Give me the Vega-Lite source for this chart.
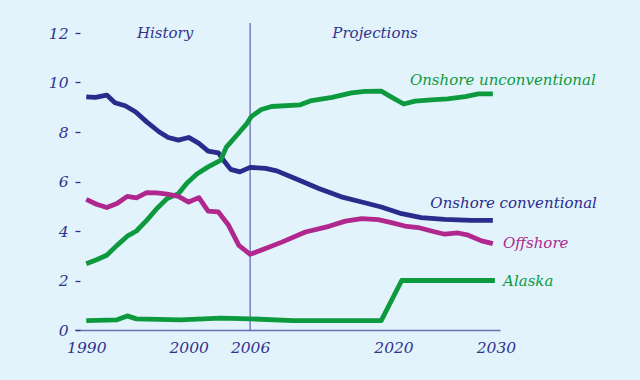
{
  "$schema": "https://vega.github.io/schema/vega-lite/v6.json",
  "width": 425,
  "height": 297,
  "autosize": {"type": "none"},
  "padding": {"left": 75, "top": 33, "right": 140, "bottom": 50},
  "background": "#e2f3fc",
  "config": {
    "view": {"stroke": null},
    "font": "DejaVu Serif"
  },
  "datasets": {
    "lines": [
      {"series": "Onshore conventional", "year": 1990.0, "value": 9.42},
      {"series": "Onshore conventional", "year": 1990.9, "value": 9.40},
      {"series": "Onshore conventional", "year": 1992.0, "value": 9.49},
      {"series": "Onshore conventional", "year": 1992.8, "value": 9.18},
      {"series": "Onshore conventional", "year": 1993.8, "value": 9.06},
      {"series": "Onshore conventional", "year": 1994.8, "value": 8.82},
      {"series": "Onshore conventional", "year": 1995.9, "value": 8.41},
      {"series": "Onshore conventional", "year": 1997.1, "value": 8.01},
      {"series": "Onshore conventional", "year": 1998.0, "value": 7.78},
      {"series": "Onshore conventional", "year": 1999.0, "value": 7.67},
      {"series": "Onshore conventional", "year": 2000.0, "value": 7.78},
      {"series": "Onshore conventional", "year": 2001.0, "value": 7.54},
      {"series": "Onshore conventional", "year": 2001.9, "value": 7.23},
      {"series": "Onshore conventional", "year": 2002.9, "value": 7.16},
      {"series": "Onshore conventional", "year": 2003.4, "value": 6.86},
      {"series": "Onshore conventional", "year": 2004.1, "value": 6.49},
      {"series": "Onshore conventional", "year": 2005.0, "value": 6.39},
      {"series": "Onshore conventional", "year": 2006.0, "value": 6.57},
      {"series": "Onshore conventional", "year": 2007.5, "value": 6.53},
      {"series": "Onshore conventional", "year": 2008.6, "value": 6.43},
      {"series": "Onshore conventional", "year": 2010.4, "value": 6.12},
      {"series": "Onshore conventional", "year": 2012.7, "value": 5.72},
      {"series": "Onshore conventional", "year": 2014.9, "value": 5.38},
      {"series": "Onshore conventional", "year": 2016.9, "value": 5.17},
      {"series": "Onshore conventional", "year": 2018.8, "value": 4.97},
      {"series": "Onshore conventional", "year": 2020.8, "value": 4.70},
      {"series": "Onshore conventional", "year": 2022.7, "value": 4.54},
      {"series": "Onshore conventional", "year": 2025.0, "value": 4.47},
      {"series": "Onshore conventional", "year": 2027.6, "value": 4.43},
      {"series": "Onshore conventional", "year": 2029.7, "value": 4.43},

      {"series": "Onshore unconventional", "year": 1990.0, "value": 2.68},
      {"series": "Onshore unconventional", "year": 1991.0, "value": 2.84},
      {"series": "Onshore unconventional", "year": 1992.0, "value": 3.02},
      {"series": "Onshore unconventional", "year": 1993.0, "value": 3.42},
      {"series": "Onshore unconventional", "year": 1994.0, "value": 3.79},
      {"series": "Onshore unconventional", "year": 1994.9, "value": 4.00},
      {"series": "Onshore unconventional", "year": 1995.9, "value": 4.43},
      {"series": "Onshore unconventional", "year": 1996.9, "value": 4.91},
      {"series": "Onshore unconventional", "year": 1997.9, "value": 5.31},
      {"series": "Onshore unconventional", "year": 1999.0, "value": 5.51},
      {"series": "Onshore unconventional", "year": 1999.8, "value": 5.92},
      {"series": "Onshore unconventional", "year": 2000.8, "value": 6.30},
      {"series": "Onshore unconventional", "year": 2001.9, "value": 6.59},
      {"series": "Onshore unconventional", "year": 2003.1, "value": 6.85},
      {"series": "Onshore unconventional", "year": 2003.7, "value": 7.40},
      {"series": "Onshore unconventional", "year": 2004.7, "value": 7.87},
      {"series": "Onshore unconventional", "year": 2005.7, "value": 8.35},
      {"series": "Onshore unconventional", "year": 2006.1, "value": 8.62},
      {"series": "Onshore unconventional", "year": 2007.1, "value": 8.91},
      {"series": "Onshore unconventional", "year": 2008.1, "value": 9.03},
      {"series": "Onshore unconventional", "year": 2010.9, "value": 9.10},
      {"series": "Onshore unconventional", "year": 2012.0, "value": 9.27},
      {"series": "Onshore unconventional", "year": 2014.0, "value": 9.40},
      {"series": "Onshore unconventional", "year": 2015.9, "value": 9.58},
      {"series": "Onshore unconventional", "year": 2017.2, "value": 9.64},
      {"series": "Onshore unconventional", "year": 2018.8, "value": 9.65},
      {"series": "Onshore unconventional", "year": 2019.8, "value": 9.41},
      {"series": "Onshore unconventional", "year": 2021.0, "value": 9.13},
      {"series": "Onshore unconventional", "year": 2022.1, "value": 9.25},
      {"series": "Onshore unconventional", "year": 2023.7, "value": 9.30},
      {"series": "Onshore unconventional", "year": 2025.3, "value": 9.34},
      {"series": "Onshore unconventional", "year": 2027.0, "value": 9.43},
      {"series": "Onshore unconventional", "year": 2028.3, "value": 9.54},
      {"series": "Onshore unconventional", "year": 2029.7, "value": 9.54},

      {"series": "Offshore", "year": 1990.0, "value": 5.28},
      {"series": "Offshore", "year": 1991.0, "value": 5.08},
      {"series": "Offshore", "year": 1992.0, "value": 4.95},
      {"series": "Offshore", "year": 1993.0, "value": 5.11},
      {"series": "Offshore", "year": 1994.0, "value": 5.40},
      {"series": "Offshore", "year": 1994.9, "value": 5.34},
      {"series": "Offshore", "year": 1995.9, "value": 5.55},
      {"series": "Offshore", "year": 1996.9, "value": 5.54},
      {"series": "Offshore", "year": 1997.9, "value": 5.49},
      {"series": "Offshore", "year": 1999.0, "value": 5.40},
      {"series": "Offshore", "year": 2000.0, "value": 5.17},
      {"series": "Offshore", "year": 2001.0, "value": 5.35},
      {"series": "Offshore", "year": 2001.9, "value": 4.80},
      {"series": "Offshore", "year": 2002.9, "value": 4.77},
      {"series": "Offshore", "year": 2003.9, "value": 4.23},
      {"series": "Offshore", "year": 2004.9, "value": 3.42},
      {"series": "Offshore", "year": 2006.0, "value": 3.06},
      {"series": "Offshore", "year": 2007.5, "value": 3.29},
      {"series": "Offshore", "year": 2009.1, "value": 3.55},
      {"series": "Offshore", "year": 2011.4, "value": 3.96},
      {"series": "Offshore", "year": 2013.7, "value": 4.19},
      {"series": "Offshore", "year": 2015.3, "value": 4.40},
      {"series": "Offshore", "year": 2016.9, "value": 4.50},
      {"series": "Offshore", "year": 2018.5, "value": 4.46},
      {"series": "Offshore", "year": 2019.8, "value": 4.34},
      {"series": "Offshore", "year": 2021.1, "value": 4.20},
      {"series": "Offshore", "year": 2022.4, "value": 4.14},
      {"series": "Offshore", "year": 2023.7, "value": 4.00},
      {"series": "Offshore", "year": 2025.0, "value": 3.87},
      {"series": "Offshore", "year": 2026.3, "value": 3.92},
      {"series": "Offshore", "year": 2027.3, "value": 3.83},
      {"series": "Offshore", "year": 2028.6, "value": 3.60},
      {"series": "Offshore", "year": 2029.7, "value": 3.49},

      {"series": "Alaska", "year": 1990.0, "value": 0.38},
      {"series": "Alaska", "year": 1993.0, "value": 0.41},
      {"series": "Alaska", "year": 1994.0, "value": 0.57},
      {"series": "Alaska", "year": 1994.9, "value": 0.45},
      {"series": "Alaska", "year": 1999.2, "value": 0.41},
      {"series": "Alaska", "year": 2003.1, "value": 0.48},
      {"series": "Alaska", "year": 2006.0, "value": 0.45},
      {"series": "Alaska", "year": 2010.2, "value": 0.38},
      {"series": "Alaska", "year": 2018.8, "value": 0.38},
      {"series": "Alaska", "year": 2020.8, "value": 2.00},
      {"series": "Alaska", "year": 2029.9, "value": 2.00}
    ],
    "seriesLabels": [
      {"series": "Onshore unconventional", "year": 2021.6, "value": 10.1},
      {"series": "Onshore conventional", "year": 2023.6, "value": 5.12},
      {"series": "Offshore", "year": 2030.7, "value": 3.5},
      {"series": "Alaska", "year": 2030.7, "value": 2.0}
    ],
    "periods": [
      {"label": "History", "year": 1997.7, "value": 12.0},
      {"label": "Projections", "year": 2018.2, "value": 12.0}
    ],
    "divider": [
      {"year": 2006, "y0": 0, "y1": 12.4}
    ]
  },
  "layer": [
    {
      "data": {"name": "divider"},
      "mark": {"type": "rule", "color": "#6d6db4", "strokeWidth": 1.3},
      "encoding": {
        "x": {"field": "year", "type": "quantitative"},
        "y": {"field": "y0", "type": "quantitative"},
        "y2": {"field": "y1"}
      }
    },
    {
      "data": {"name": "lines"},
      "mark": {"type": "line", "strokeWidth": 4.8, "strokeJoin": "round", "strokeCap": "butt"},
      "encoding": {
        "x": {
          "field": "year", "type": "quantitative",
          "scale": {"domain": [1988.9, 2030.4], "nice": false, "zero": false},
          "axis": {
            "title": null,
            "values": [1990, 2000, 2006, 2020, 2030],
            "format": "d",
            "ticks": false,
            "tickSize": 0,
            "grid": false,
            "domainColor": "#6d6db4",
            "domainWidth": 1.5,
            "labelFont": "DejaVu Serif",
            "labelFontStyle": "italic",
            "labelFontSize": 15.5,
            "labelColor": "#33338f",
            "labelPadding": 10,
            "labelFlush": false
          }
        },
        "y": {
          "field": "value", "type": "quantitative",
          "scale": {"domain": [0, 12], "nice": false},
          "axis": {
            "title": null,
            "values": [0, 2, 4, 6, 8, 10, 12],
            "domain": false,
            "grid": false,
            "offset": -5,
            "tickSize": 5,
            "tickColor": "#33338f",
            "tickWidth": 1.3,
            "labelFont": "DejaVu Serif",
            "labelFontStyle": "italic",
            "labelFontSize": 15.5,
            "labelColor": "#33338f",
            "labelPadding": 7
          }
        },
        "color": {
          "field": "series", "type": "nominal",
          "scale": {
            "domain": ["Onshore conventional", "Onshore unconventional", "Offshore", "Alaska"],
            "range": ["#2b2b8c", "#0d9a3e", "#b0288e", "#0d9a3e"]
          },
          "legend": null
        },
        "detail": {"field": "series", "type": "nominal"}
      }
    },
    {
      "data": {"name": "seriesLabels"},
      "mark": {"type": "text", "align": "left", "baseline": "middle", "font": "DejaVu Serif", "fontStyle": "italic", "fontSize": 15},
      "encoding": {
        "x": {"field": "year", "type": "quantitative"},
        "y": {"field": "value", "type": "quantitative"},
        "text": {"field": "series"},
        "color": {"field": "series", "type": "nominal", "legend": null}
      }
    },
    {
      "data": {"name": "periods"},
      "mark": {"type": "text", "align": "center", "baseline": "middle", "font": "DejaVu Serif", "fontStyle": "italic", "fontSize": 15, "color": "#33338f"},
      "encoding": {
        "x": {"field": "year", "type": "quantitative"},
        "y": {"field": "value", "type": "quantitative"},
        "text": {"field": "label"}
      }
    }
  ]
}
